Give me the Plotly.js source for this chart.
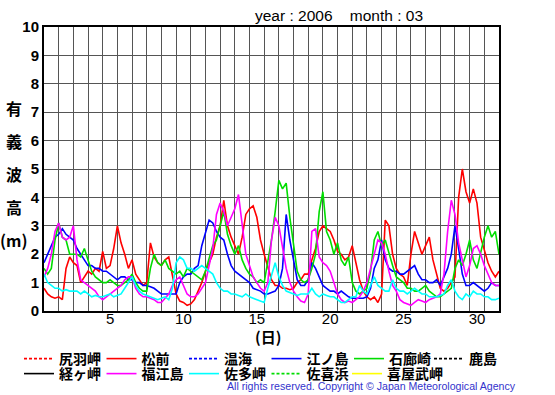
<!DOCTYPE html>
<html>
<head>
<meta charset="utf-8">
<script src="https://cdn.plot.ly/plotly-3.0.1.min.js"></script>
<style>
  html, body { margin: 0; padding: 0; background: #fff; }
  #chart { width: 555px; height: 395px; }
</style>
</head>
<body>
<div id="chart"></div>
<script>
// significant wave height, March 2006, sampled every 6 hours (day 1 00h .. day 32 00h)
const sampleHours = [0, 6, 12, 18];
const nDays = 31;

const matsumae = [
  0.8, 0.6, 0.5, 0.45,  0.5, 0.4, 1.5, 1.9,  1.7, 1.6, 1.0, 1.2,  1.4, 1.3, 1.5, 1.4,
  2.1, 1.5, 1.6, 2.2,   3.0, 2.4, 2.0, 1.5,  1.8, 1.3, 1.1, 0.9,  1.0, 2.4, 1.9, 1.7,
  1.6, 1.8, 1.9, 1.2,   0.6, 0.35, 0.3, 0.2, 0.25, 0.4, 0.7, 1.0, 1.4, 1.7, 2.0, 2.6,
  3.0, 3.9, 3.0, 2.6,   2.3, 2.0, 2.6, 3.4,  3.6, 3.7, 3.3, 2.5,  2.0, 1.5, 1.1, 0.9,
  0.9, 0.8, 0.8, 0.75,  0.8, 1.0, 1.1, 1.3,  1.3, 1.8, 2.2, 2.8,  3.0, 2.9, 2.8, 2.5,
  2.1, 2.0, 1.8, 1.9,   2.3, 1.7, 1.1, 0.7,  0.5, 0.4, 0.5, 0.3,  0.6, 3.2, 3.0, 2.0,
  1.5, 1.3, 1.2, 0.9,   2.0, 2.8, 2.4, 2.0,  2.3, 2.6, 1.8, 1.3,  0.8, 0.7, 0.8, 1.0,
  1.2, 4.0, 5.0, 4.2,   3.8, 4.3, 3.8, 2.6,  2.1, 1.7, 1.4, 1.2,  1.4
];
const enoshima = [
  1.7, 2.0, 2.3, 2.6,   2.7, 2.9, 2.7, 2.6,  2.5, 2.2, 2.0, 1.8,  1.6, 1.6, 1.5, 1.5,
  1.4, 1.4, 1.3, 1.2,   1.1, 1.2, 1.2, 1.1,  1.1, 1.0, 1.0, 0.9,  0.9, 0.85, 0.8, 0.7,
  0.6, 0.6, 0.6, 0.6,   0.6, 1.0, 1.2, 1.3,  1.3, 1.5, 1.6, 2.3,  2.8, 3.2, 3.1, 2.8,
  2.6, 2.5, 2.0, 1.6,   1.4, 1.3, 1.2, 1.1,  1.0, 0.8, 0.75, 0.7, 0.6, 0.6, 0.65, 0.7,
  0.9, 1.5, 3.4, 2.5,   1.8, 1.1, 0.9, 0.9,  1.1, 1.7, 1.5, 1.2,  0.9, 0.8, 0.7, 0.7,
  0.6, 0.7, 0.6, 0.5,   0.45, 0.45, 0.45, 0.45, 0.5, 0.8, 1.5, 1.8, 2.5, 1.8, 1.5, 1.4,
  1.4, 1.3, 1.3, 1.4,   1.5, 1.6, 1.3, 1.1,  1.1, 1.0, 1.0, 1.1,  0.9, 1.2, 1.5, 2.0,
  3.0, 2.2, 1.3, 0.9,   0.9, 1.0, 0.9, 0.8,  0.7, 0.8, 1.0, 0.9,  0.9
];
const irozaki = [
  1.5, 1.3, 1.5, 2.5,   3.1, 2.6, 2.5, 2.0,  2.0, 2.0, 1.9, 2.2,  1.8, 1.4, 1.2, 1.1,
  1.0, 1.0, 1.1, 1.0,   0.9, 0.9, 1.0, 1.1,  1.3, 1.0, 0.8, 0.7,  0.7, 1.5, 2.0, 1.7,
  1.6, 1.8, 1.5, 1.4,   1.3, 1.4, 1.2, 1.5,  1.4, 1.3, 1.2, 1.1,  1.4, 1.9, 2.3, 2.5,
  3.0, 3.5, 2.7, 2.3,   2.0, 2.3, 1.8, 1.5,  1.3, 1.2, 1.0, 1.1,  1.0, 1.7, 2.5, 3.5,
  4.6, 4.3, 4.5, 3.3,   2.3, 1.4, 1.1, 1.0,  1.1, 1.5, 2.0, 3.5,  4.2, 2.8, 2.5, 2.0,
  2.4, 1.8, 1.6, 1.9,   1.0, 0.7, 0.6, 0.7,  0.8, 1.4, 2.5, 2.8,  2.3, 2.5, 2.0, 1.6,
  1.2, 1.1, 1.0, 0.8,   0.8, 0.7, 0.7, 0.8,  0.9, 0.7, 0.6, 0.5,  0.5, 0.6, 0.7, 0.8,
  1.5, 1.8, 1.6, 2.0,   2.5, 1.8, 1.5, 2.1,  2.6, 3.0, 2.6, 2.8,  2.0
];
const fukuejima = [
  1.2, 1.5, 2.0, 2.8,   3.1, 2.6, 2.5, 2.6,  3.0, 1.8, 1.1, 1.0,  0.9, 0.8, 0.7, 0.5,
  0.4, 0.5, 0.6, 0.7,   0.8, 0.9, 1.1, 1.2,  1.2, 0.8, 0.6, 0.5,  0.5, 0.45, 0.4, 0.3,
  0.3, 0.45, 0.6, 0.9,  1.1, 1.2, 0.9, 0.6,  0.5, 0.5, 0.6, 0.8,  1.0, 1.6, 2.2, 3.4,
  3.8, 3.5, 3.0, 3.3,   3.6, 4.1, 3.0, 2.0,  1.6, 1.2, 1.0, 0.8,  0.7, 1.0, 2.5, 3.3,
  3.0, 2.3, 1.5, 1.0,   0.7, 0.5, 0.35, 0.3, 0.6, 2.8, 2.9, 1.9,  1.7, 1.6, 1.4, 1.0,
  0.6, 0.4, 0.3, 0.35,  0.3, 0.4, 0.5, 0.7,  1.0, 1.5, 2.0, 2.5,  2.4, 2.0, 1.4, 0.9,
  0.7, 0.4, 0.3, 0.25,  0.2, 0.3, 0.4, 0.35, 0.3, 0.4, 0.45, 0.5, 0.6, 1.3, 2.8, 3.9,
  3.4, 2.4, 1.8, 1.2,   1.6, 2.2, 2.3, 2.0,  1.6, 1.3, 1.0, 0.9,  0.9
];
const satamisaki = [
  1.3, 1.0, 0.9, 0.8,   0.8, 0.7, 0.75, 0.7, 0.7, 0.7, 0.6, 0.7,  0.6, 0.5, 0.55, 0.5,
  0.5, 0.55, 0.6, 0.5,  0.55, 0.6, 0.8, 1.0, 1.2, 0.9, 0.7, 0.6,  0.55, 0.5, 0.45, 0.4,
  0.45, 0.5, 0.4, 0.8,  1.7, 1.9, 1.8, 1.5,  1.5, 1.4, 1.5, 1.6,  1.5, 1.4, 1.3, 1.0,
  0.8, 0.7, 0.7, 0.6,   0.6, 0.55, 0.5, 0.6, 0.5, 0.45, 0.4, 0.35, 0.3, 0.8, 1.3, 1.7,
  1.2, 0.9, 0.7, 0.65,  0.6, 0.55, 0.6, 0.6, 0.6, 0.8, 0.6, 0.5,  0.6, 0.55, 0.5, 0.5,
  0.4, 0.3, 0.3, 0.4,   0.5, 0.5, 0.9, 0.7,  0.6, 0.9, 1.2, 0.9,  0.8, 0.7, 0.7, 1.1,
  0.8, 0.7, 0.7, 0.6,   0.7, 0.8, 0.7, 0.6,  0.6, 0.5, 0.5, 0.5,  0.55, 0.6, 0.9, 1.1,
  0.7, 0.5, 0.4, 0.6,   0.5, 0.7, 0.6, 0.6,  0.5, 0.5, 0.4, 0.4,  0.45
];

// stations without observations this month (legend only)
const noData = [null];

const stations = [
  { name: "尻羽岬", color: "#ff0000", dash: "3px,2px", y: noData, legend: "legend" },
  { name: "松前", color: "#ff0000", dash: "solid", y: matsumae, legend: "legend" },
  { name: "温海", color: "#0000ff", dash: "3px,2px", y: noData, legend: "legend" },
  { name: "江ノ島", color: "#0000ff", dash: "solid", y: enoshima, legend: "legend" },
  { name: "石廊崎", color: "#00dd00", dash: "solid", y: irozaki, legend: "legend" },
  { name: "鹿島", color: "#000000", dash: "3px,2px", y: noData, legend: "legend3" },
  { name: "経ヶ岬", color: "#000000", dash: "solid", y: noData, legend: "legend2" },
  { name: "福江島", color: "#ff00ff", dash: "solid", y: fukuejima, legend: "legend2" },
  { name: "佐多岬", color: "#00ffff", dash: "solid", y: satamisaki, legend: "legend2" },
  { name: "佐喜浜", color: "#00dd00", dash: "3px,2px", y: noData, legend: "legend2" },
  { name: "喜屋武岬", color: "#ffff00", dash: "solid", y: noData, legend: "legend4" }
];

const times = [];
for (let d = 1; d <= nDays; d++) {
  sampleHours.forEach((h) => times.push(d + h / 24));
}
times.push(nDays + 1);

const dayTicks = [5, 10, 15, 20, 25, 30];

const traces = stations.map((s) => ({
  type: "scatter",
  mode: "lines",
  name: s.name,
  x: s.y === noData ? noData : times,
  y: s.y,
  legend: s.legend,
  line: { color: s.color, width: 1.6, dash: s.dash },
}));

const legendFont = { family: "Noto Sans CJK JP", size: 14, color: "#000", weight: "bold" };

function legendRow(left, top, entry) {
  return {
    orientation: "h",
    xref: "container", yref: "container",
    x: left / 555, y: 1 - top / 395,
    xanchor: "left", yanchor: "top",
    entrywidth: entry || 37.5,
    itemwidth: 30,
    font: legendFont,
    bgcolor: "rgba(0,0,0,0)",
  };
}

const layout = {
  width: 555,
  height: 395,
  margin: { l: 44, r: 56, t: 27, b: 84 },
  paper_bgcolor: "#fff",
  plot_bgcolor: "#fff",
  showlegend: true,
  xaxis: {
    range: [1, nDays + 1],
    tickmode: "array",
    tickvals: dayTicks.map((d) => d + 0.5),
    ticktext: dayTicks.map(String),
    ticks: "",
    ticklabelstandoff: -7,
    showgrid: false,
    zeroline: false,
    showline: true,
    linecolor: "#000",
    linewidth: 2,
    mirror: true,
    tickfont: { family: "Liberation Sans", size: 15, color: "#000" },
    minor: { tick0: 1, dtick: 1, showgrid: true, gridcolor: "#555", gridwidth: 1, ticks: "" },
  },
  yaxis: {
    range: [0, 10],
    dtick: 1,
    ticks: "",
    showgrid: true,
    gridcolor: "#555",
    gridwidth: 1,
    zeroline: false,
    showline: true,
    linecolor: "#000",
    linewidth: 2,
    mirror: true,
    tickfont: { family: "Liberation Sans", size: 15, color: "#000", weight: "bold" },
  },
  legend: legendRow(19, 343),
  legend3: legendRow(429, 343),
  legend2: legendRow(19, 358),
  legend4: legendRow(347, 358, 64),
  annotations: [
    { text: "year : 2006    month : 03", xref: "paper", yref: "paper", x: (339 - 44) / 455, y: 1, xanchor: "center", yanchor: "bottom", yshift: 1, showarrow: false,
      font: { family: "Liberation Sans", size: 15.5, color: "#000" } },
    { text: "(日)", xref: "paper", yref: "paper", x: (268 - 44) / 455, y: (311 - 336) / 284, yanchor: "middle", showarrow: false,
      font: { family: "Noto Sans CJK JP", size: 15, color: "#000", weight: "bold" } },
    ...["有", "義", "波", "高", "(m)"].map((ch, i) => ({
      text: ch, xref: "paper", yref: "paper",
      x: (14 - 44) / 455, y: (311 - (108 + i * 33)) / 284,
      xanchor: "center", yanchor: "middle", showarrow: false,
      font: { family: "Noto Sans CJK JP", size: 16, color: "#000", weight: "bold" },
    })),
    { text: "All rights reserved. Copyright © Japan Meteorological Agency", xref: "paper", yref: "paper",
      x: (518 - 44) / 455, y: (311 - 386) / 284, xanchor: "right", yanchor: "middle", showarrow: false,
      font: { family: "Liberation Sans", size: 10.6, color: "#3333cc" } },
  ],
};

Plotly.newPlot("chart", traces, layout, { displayModeBar: false, staticPlot: true });
</script>
</body>
</html>
